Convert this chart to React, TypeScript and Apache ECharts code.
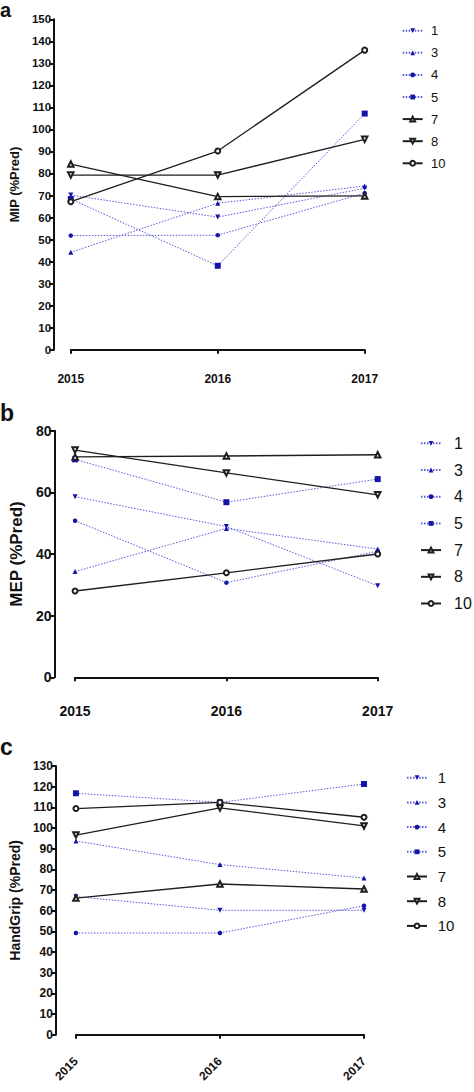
import React, { useEffect, useRef } from "react";
import * as echarts from "echarts";

const years = ["2015", "2016", "2017"];
const seriesNames = ["1", "3", "4", "5", "7", "8", "10"];

const mipValues: number[][] = [
  [70.2, 60.2, 73.3],
  [44.2, 66.5, 74.3],
  [51.8, 52.0, 71.1],
  [68.4, 38.1, 107.2],
  [84.3, 69.5, 69.8],
  [79.3, 79.3, 95.5],
  [67.2, 90.2, 136.0],
];

const mepValues: number[][] = [
  [58.6, 48.9, 29.7],
  [34.3, 48.3, 41.6],
  [50.8, 30.7, 40.9],
  [70.7, 56.8, 64.3],
  [71.5, 71.8, 72.2],
  [73.7, 66.3, 59.2],
  [28.0, 33.9, 40.0],
];

const gripValues: number[][] = [
  [66.8, 60.2, 60.2],
  [93.7, 82.3, 75.8],
  [49.2, 49.2, 62.4],
  [116.8, 112.4, 121.3],
  [66.1, 72.9, 70.5],
  [96.6, 109.7, 101.0],
  [109.4, 112.4, 105.2],
];

const FONT = "Liberation Sans, Arial, sans-serif";
const BLUE_MARK = "#1414a8";
const BLUE_LINE = "#5a5ad6";
const BLACK = "#1e1e1e";

type Style = { symbol: string; rotate: number; size: number; blue: boolean };
const styles: Style[] = [
  { symbol: "triangle", rotate: 180, size: 5, blue: true },
  { symbol: "triangle", rotate: 0, size: 5, blue: true },
  { symbol: "circle", rotate: 0, size: 4.5, blue: true },
  { symbol: "rect", rotate: 0, size: 6, blue: true },
  { symbol: "emptyTriangle", rotate: 0, size: 5.5, blue: false },
  { symbol: "emptyTriangle", rotate: 180, size: 5.5, blue: false },
  { symbol: "emptyCircle", rotate: 0, size: 5, blue: false },
];

export default function App() {
  const ref = useRef<HTMLDivElement>(null);
  useEffect(() => {
    if (!ref.current) return;
    const chart = echarts.init(ref.current, undefined, { renderer: "svg" });

    const panels = [
      {
        data: mipValues, name: "MIP (%Pred)", max: 150, interval: 10,
        grid: { left: 66.7, top: 19.3, width: 298, height: 330.4 },
        yOffset: 16.7, xOffset: 17, tickFont: 11.5, xFont: 12, nameFont: 13, nameGap: 31, rotate: 0,
        legend: { left: 401.7, top: 23.7, itemGap: 8.1, lineHeight: 14, font: 13, textPad: 3.3 },
      },
      {
        data: mepValues, name: "MEP (%Pred)", max: 80, interval: 20,
        grid: { left: 72.3, top: 430.7, width: 305.4, height: 246.6 },
        yOffset: 20.6, xOffset: 20.7, tickFont: 14, xFont: 14, nameFont: 17, nameGap: 25, rotate: 0,
        legend: { left: 420, top: 434.8, itemGap: 9.7, lineHeight: 17, font: 16, textPad: 8 },
      },
      {
        data: gripValues, name: "HandGrip (%Pred)", max: 130, interval: 10,
        grid: { left: 73.3, top: 766, width: 290.7, height: 268.7 },
        yOffset: 20, xOffset: 18.6, tickFont: 12, xFont: 12, nameFont: 14, nameGap: 30, rotate: 45,
        legend: { left: 406, top: 769.7, itemGap: 8.7, lineHeight: 16, font: 15, textPad: 5.7 },
      },
    ];

    const grid: any[] = [];
    const xAxis: any[] = [];
    const yAxis: any[] = [];
    const series: any[] = [];
    const legend: any[] = [];

    panels.forEach((p, pi) => {
      grid.push({ ...p.grid, containLabel: false });
      xAxis.push({
        type: "category",
        gridIndex: pi,
        data: years,
        boundaryGap: false,
        offset: p.xOffset,
        axisLine: { lineStyle: { color: "#111", width: 2 } },
        axisTick: { show: true, inside: false, length: 4, lineStyle: { color: "#111", width: 2 } },
        axisLabel: {
          color: "#111", fontWeight: "bold", fontFamily: FONT, fontSize: p.xFont, margin: 6,
          rotate: p.rotate, interval: 0,
        },
        splitLine: { show: false },
      });
      yAxis.push({
        type: "value",
        gridIndex: pi,
        min: 0,
        max: p.max,
        interval: p.interval,
        offset: p.yOffset,
        name: p.name,
        nameLocation: "middle",
        nameGap: p.nameGap,
        nameTextStyle: { color: "#111", fontWeight: "bold", fontFamily: FONT, fontSize: p.nameFont },
        axisLine: { show: true, lineStyle: { color: "#111", width: 2 } },
        axisTick: { show: true, length: 5, lineStyle: { color: "#111", width: 2 } },
        axisLabel: { color: "#111", fontWeight: "bold", fontFamily: FONT, fontSize: p.tickFont, margin: 3 },
        splitLine: { show: false },
      });
      p.data.forEach((vals, si) => {
        const st = styles[si];
        series.push({
          type: "line",
          name: seriesNames[si],
          xAxisIndex: pi,
          yAxisIndex: pi,
          data: vals,
          symbol: st.symbol,
          symbolRotate: st.rotate,
          symbolSize: st.size,
          showSymbol: true,
          itemStyle: st.blue ? { color: BLUE_MARK } : { color: BLACK, borderColor: BLACK, borderWidth: 1 },
          lineStyle: st.blue
            ? { color: BLUE_LINE, width: 1, type: [1.5, 1.5] }
            : { color: BLACK, width: 1.3, type: "solid" },
          z: st.blue ? 2 : 3,
        });
      });
      legend.push({
        orient: "vertical",
        left: p.legend.left,
        top: p.legend.top,
        padding: 0,
        itemWidth: 20,
        itemHeight: 6,
        itemGap: p.legend.itemGap,
        data: seriesNames,
        selectedMode: false,
        textStyle: {
          color: "#111", fontFamily: FONT, fontSize: p.legend.font, lineHeight: p.legend.lineHeight,
          padding: [0, 0, 0, p.legend.textPad],
        },
      });
    });

    chart.setOption({
      animation: false,
      backgroundColor: "#ffffff",
      grid,
      xAxis,
      yAxis,
      series,
      legend,
      graphic: [
        { type: "text", left: 0, top: 0, style: { text: "a", fontSize: 20, fontWeight: "bold", fontFamily: FONT, fill: "#111" } },
        { type: "text", left: 0, top: 401, style: { text: "b", fontSize: 23, fontWeight: "bold", fontFamily: FONT, fill: "#111" } },
        { type: "text", left: 0, top: 735, style: { text: "c", fontSize: 23, fontWeight: "bold", fontFamily: FONT, fill: "#111" } },
      ],
    });
    return () => chart.dispose();
  }, []);
  return (
    <div
      ref={ref}
      style={{ position: "absolute", left: 0, top: 0, width: 474, height: 1092, background: "#fff" }}
    />
  );
}
